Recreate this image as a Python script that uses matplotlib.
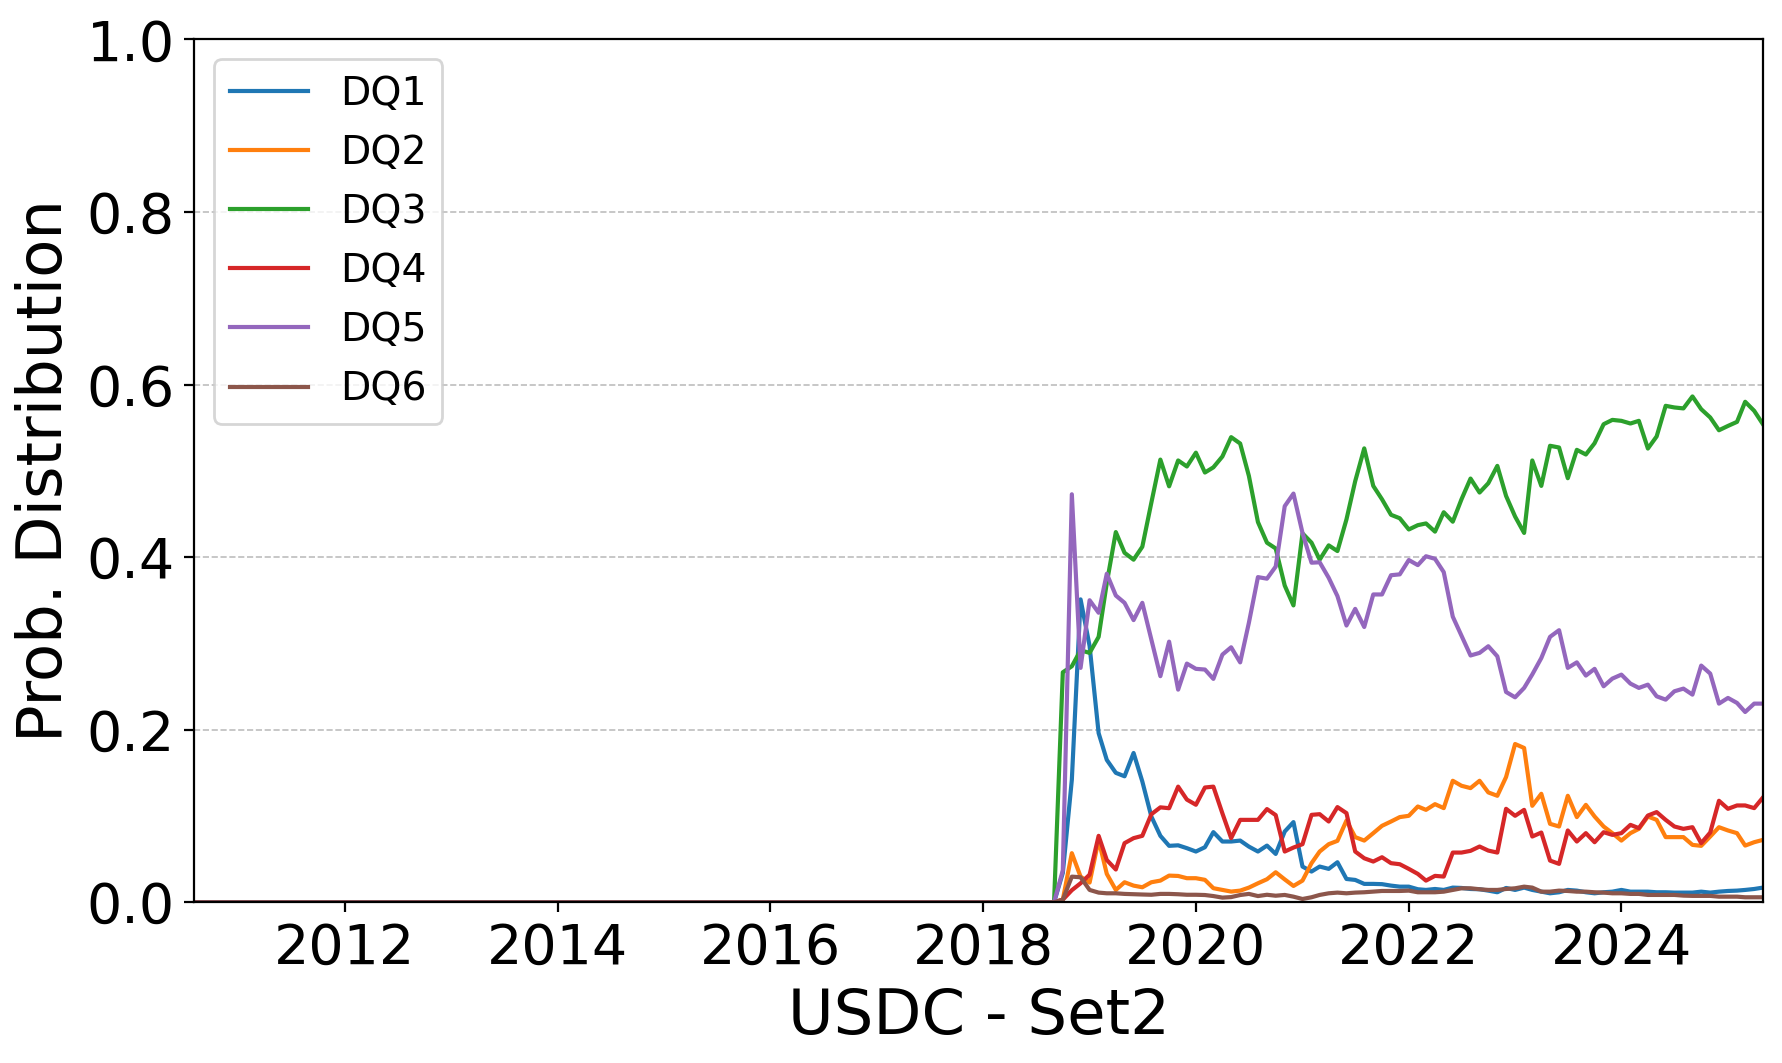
import matplotlib
matplotlib.use("Agg")
import matplotlib.pyplot as plt
import matplotlib.dates as mdates
import pandas as pd

# ---- data -------------------------------------------------------------
start_month = "2010-08-01"      # first month on the axis
first_active = "2018-10-01"     # first month with non-zero values
end_month = "2025-05-01"

labels = ["DQ1", "DQ2", "DQ3", "DQ4", "DQ5", "DQ6"]

dq1 = [0.034, 0.142, 0.351, 0.297, 0.196, 0.165, 0.150, 0.146, 0.173, 0.140,
       0.0994, 0.077, 0.0654, 0.066, 0.0627, 0.0588, 0.0638, 0.0813, 0.0704, 0.0704,
       0.0715, 0.0645, 0.0588, 0.0657, 0.056, 0.082, 0.0929, 0.0414, 0.0356, 0.0414,
       0.0387, 0.0464, 0.027, 0.0259, 0.0213, 0.0213, 0.021, 0.0193, 0.0181, 0.0181,
       0.0151, 0.0143, 0.0154, 0.0143, 0.017, 0.0166, 0.0154, 0.0151, 0.0135, 0.0116,
       0.0166, 0.0143, 0.017, 0.0143, 0.0123, 0.0104, 0.0116, 0.0143, 0.0135, 0.0116,
       0.0104, 0.0116, 0.0123, 0.0143, 0.0123, 0.0123, 0.0123, 0.0116, 0.0116, 0.0112,
       0.0112, 0.0112, 0.0123, 0.0112, 0.0123, 0.0131, 0.0135, 0.0143, 0.0154, 0.017]

dq2 = [0.003, 0.0569, 0.0297, 0.0228, 0.0723, 0.0329, 0.0143, 0.0232, 0.0193, 0.0174,
       0.0232, 0.0251, 0.0309, 0.0305, 0.0279, 0.0279, 0.026, 0.0163, 0.0143, 0.0124,
       0.0135, 0.017, 0.022, 0.0267, 0.0348, 0.0265, 0.0189, 0.0251, 0.0453, 0.0588,
       0.0673, 0.0712, 0.0947, 0.0755, 0.0715, 0.0801, 0.0886, 0.0936, 0.0987, 0.1002,
       0.111, 0.1071, 0.1137, 0.1091, 0.1408, 0.135, 0.1323, 0.1408, 0.1273, 0.1234,
       0.1451, 0.1834, 0.1788, 0.1118, 0.1257, 0.0909, 0.0878, 0.1234, 0.0987, 0.1129,
       0.0994, 0.0878, 0.0801, 0.0715, 0.0801, 0.0851, 0.0994, 0.0955, 0.0755, 0.0755,
       0.0755, 0.0665, 0.0654, 0.0762, 0.087, 0.0832, 0.0801, 0.0657, 0.0696, 0.0723]

dq3 = [0.2665, 0.2735, 0.292, 0.289, 0.3076, 0.370, 0.429, 0.405, 0.397, 0.412,
       0.463, 0.513, 0.482, 0.512, 0.505, 0.521, 0.498, 0.504, 0.5166, 0.539,
       0.5316, 0.494, 0.4406, 0.4167, 0.41, 0.367, 0.344, 0.4275, 0.4167, 0.397,
       0.4136, 0.407, 0.4437, 0.488, 0.526, 0.4825, 0.467, 0.449, 0.445, 0.432,
       0.437, 0.439, 0.4295, 0.452, 0.441, 0.467, 0.491, 0.4748, 0.4856, 0.5057,
       0.4709, 0.447, 0.428, 0.512, 0.4825, 0.529, 0.527, 0.4914, 0.5243, 0.5189,
       0.532, 0.554, 0.559, 0.5579, 0.5548, 0.5579, 0.5258, 0.5398, 0.5753, 0.5734,
       0.5723, 0.5862, 0.5714, 0.5618, 0.547, 0.552, 0.5567, 0.580, 0.5695, 0.554]

dq4 = [0.003, 0.014, 0.022, 0.032, 0.077, 0.049, 0.038, 0.0685, 0.0743, 0.077,
       0.102, 0.110, 0.109, 0.134, 0.119, 0.113, 0.133, 0.134, 0.103, 0.0743,
       0.0955, 0.0955, 0.0955, 0.108, 0.101, 0.0588, 0.0634, 0.0673, 0.1013, 0.1021,
       0.0936, 0.1103, 0.1033, 0.0588, 0.051, 0.0472, 0.0522, 0.0453, 0.0441, 0.0387,
       0.0329, 0.0251, 0.0306, 0.0298, 0.0576, 0.0576, 0.0596, 0.0646, 0.0599, 0.0576,
       0.1083, 0.1002, 0.1071, 0.0762, 0.0808, 0.0483, 0.0445, 0.0832, 0.0704, 0.0801,
       0.0696, 0.0812, 0.0781, 0.0801, 0.0897, 0.0859, 0.1005, 0.1045, 0.0955, 0.0878,
       0.0851, 0.0870, 0.0685, 0.0808, 0.1176, 0.1083, 0.1122, 0.1122, 0.1091, 0.1214]

dq5 = [0.037, 0.4728, 0.2716, 0.35, 0.3355, 0.3807, 0.3555, 0.347, 0.327, 0.347,
       0.3045, 0.262, 0.302, 0.2464, 0.2766, 0.2705, 0.2697, 0.2589, 0.287, 0.2955,
       0.278, 0.324, 0.3768, 0.375, 0.389, 0.459, 0.4736, 0.428, 0.3935, 0.394,
       0.376, 0.3548, 0.3207, 0.340, 0.319, 0.3567, 0.3567, 0.379, 0.380, 0.3966,
       0.3907, 0.401, 0.398, 0.3826, 0.331, 0.309, 0.286, 0.289, 0.2967, 0.285,
       0.2437, 0.2375, 0.2484, 0.264, 0.283, 0.3076, 0.3153, 0.2716, 0.278, 0.2627,
       0.2705, 0.2503, 0.2592, 0.2638, 0.2534, 0.2484, 0.2522, 0.2387, 0.2348, 0.2445,
       0.2476, 0.2406, 0.2743, 0.265, 0.2302, 0.2368, 0.231, 0.2205, 0.2302, 0.2302]

dq6 = [0.003, 0.0297, 0.029, 0.0143, 0.0112, 0.0104, 0.0104, 0.0097, 0.0093, 0.009,
       0.0087, 0.0097, 0.0097, 0.0093, 0.0087, 0.0087, 0.0084, 0.0072, 0.0054, 0.006,
       0.0084, 0.0097, 0.0072, 0.0087, 0.0076, 0.0085, 0.0065, 0.0038, 0.0058, 0.0085,
       0.0104, 0.0112, 0.0104, 0.0112, 0.0116, 0.0123, 0.0131, 0.0131, 0.0131, 0.0135,
       0.0116, 0.0116, 0.0116, 0.0123, 0.0143, 0.0162, 0.0162, 0.0151, 0.0143, 0.0143,
       0.0154, 0.0162, 0.0181, 0.017, 0.0123, 0.0123, 0.0135, 0.0131, 0.0123, 0.0123,
       0.0116, 0.0112, 0.0104, 0.0104, 0.0097, 0.0097, 0.0085, 0.0085, 0.0085, 0.0085,
       0.0077, 0.0074, 0.0074, 0.0074, 0.0065, 0.0065, 0.0065, 0.0058, 0.0058, 0.0058]

series = [dq1, dq2, dq3, dq4, dq5, dq6]

# ---- build the monthly table -----------------------------------------
months = pd.date_range(start_month, end_month, freq="MS")
n_zero = len(pd.date_range(start_month, first_active, freq="MS")) - 1
df = pd.DataFrame({lab: [0.0] * n_zero + vals for lab, vals in zip(labels, series)},
                  index=months)

# ---- plot ------------------------------------------------------------
fig = plt.figure(figsize=(8.91, 5.315), dpi=200)
ax = fig.add_axes([0.1089, 0.1512, 0.9893 - 0.1089, 0.963 - 0.1512])

colors = ["#1f77b4", "#ff7f0e", "#2ca02c", "#d62728", "#9467bd", "#8c564b"]
for lab, c in zip(labels, colors):
    ax.plot(df.index, df[lab], color=c, lw=1.5, label=lab)

ax.set_xlim(df.index[0], df.index[-1])
ax.set_ylim(0, 1.0)
ax.set_yticks([0.0, 0.2, 0.4, 0.6, 0.8, 1.0])
ax.xaxis.set_major_locator(mdates.YearLocator(2))
ax.xaxis.set_major_formatter(mdates.DateFormatter("%Y"))
ax.tick_params(axis="both", labelsize=20)
ax.yaxis.grid(True, linestyle="--", linewidth=0.6, color="#bdbdbd")
ax.set_axisbelow(True)

ax.set_xlabel("USDC - Set2", fontsize=22.5)
ax.set_ylabel("Prob. Distribution", fontsize=22.5)
ax.legend(loc="upper left", fontsize=14.2, labelspacing=0.535)

fig.savefig("out.png", dpi=200)
